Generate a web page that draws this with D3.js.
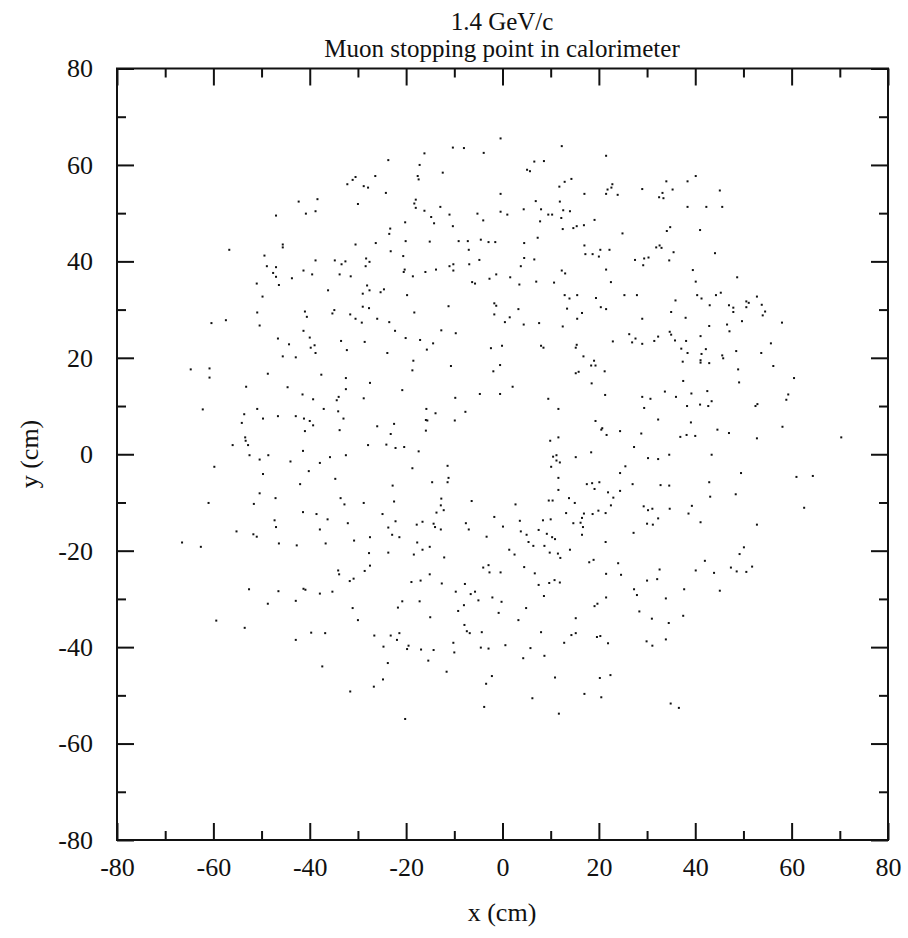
<!DOCTYPE html>
<html>
<head>
<meta charset="utf-8">
<script src="https://cdn.jsdelivr.net/npm/d3@7"></script>
<style>
    html, body { margin: 0; padding: 0; background: #fff; }
    svg text { font-family: "Liberation Serif", "Times New Roman", serif; fill: #111; }
</style>
</head>
<body>
<div id="chart"></div>
<script>
const titleLines = ['1.4 GeV/c', 'Muon stopping point in calorimeter'];
const xLabel = 'x (cm)';
const yLabel = 'y (cm)';
const majorTicks = [-80, -60, -40, -20, 0, 20, 40, 60, 80];
const minorTicks = [-70, -50, -30, -10, 10, 30, 50, 70];

// upper left quadrant of the cloud
const upperLeft = [
    [-23.7, 61.0], [-26.4, 57.7], [-30.5, 57.5], [-31.1, 56.9], [-32.2, 56.0], [-28.8, 55.6], [-27.9, 55.3],
    [-24.2, 54.2], [-42.3, 52.4], [-38.4, 52.9], [-30.0, 51.9], [-40.8, 49.9], [-38.8, 50.4], [-47.0, 49.5],
    [-23.3, 46.8], [-23.5, 45.7], [-45.6, 43.5], [-45.6, 42.9], [-30.5, 43.5], [-26.3, 43.8], [-23.2, 42.1],
    [-56.7, 42.4], [-49.4, 41.2], [-48.9, 39.0], [-47.0, 38.8], [-47.6, 37.6], [-47.0, 36.8], [-46.4, 35.1],
    [-51.0, 35.4], [-49.8, 32.7], [-43.7, 36.5], [-41.3, 38.1], [-39.5, 37.3], [-38.8, 40.2], [-34.8, 40.2],
    [-33.4, 39.4], [-32.6, 40.0], [-33.8, 37.3], [-31.5, 36.9], [-28.3, 40.6], [-27.6, 39.9], [-28.4, 39.0],
    [-28.1, 35.0], [-27.6, 34.0], [-29.0, 33.3], [-25.3, 33.6], [-24.6, 34.2], [-36.2, 34.0], [-50.9, 29.4],
    [-50.4, 26.7], [-60.4, 27.2], [-57.4, 27.8], [-41.0, 29.6], [-40.6, 28.5], [-35.3, 29.2], [-34.9, 29.9],
    [-31.6, 29.0], [-30.5, 28.1], [-29.2, 27.3], [-29.0, 30.6], [-27.7, 30.3], [-26.0, 28.1], [-23.5, 27.4]
];

// upper middle
const upperMid = [
    [-0.4, 65.5], [-10.3, 63.6], [-8.0, 63.5], [-16.2, 62.4], [-3.9, 62.5], [12.3, 63.9], [21.5, 61.9],
    [6.6, 60.7], [8.6, 60.8], [-17.2, 60.0], [-12.4, 58.4], [5.1, 59.0], [5.7, 58.7], [-17.6, 57.7],
    [-17.4, 57.0], [14.3, 57.1], [12.9, 56.5], [11.8, 55.5], [22.8, 56.0], [21.8, 54.9], [22.6, 55.3],
    [21.5, 54.0], [23.9, 53.8], [17.0, 54.0], [-0.4, 54.0], [-18.0, 52.8], [-18.3, 52.0], [-18.0, 51.1],
    [-12.9, 51.3], [-16.2, 50.5], [-14.8, 49.2], [-14.2, 47.9], [-20.2, 48.1], [-11.0, 49.7], [-10.3, 47.3],
    [-5.2, 49.9], [-4.0, 48.5], [-0.4, 50.3], [1.0, 49.7], [6.9, 52.5], [4.4, 50.8], [8.0, 50.8],
    [9.5, 49.7], [10.3, 49.7], [11.9, 52.4], [12.6, 50.6], [14.0, 50.4], [12.2, 49.0], [7.8, 48.3],
    [19.1, 48.6], [12.5, 46.7], [14.7, 46.9], [15.4, 47.3], [16.9, 47.5], [24.9, 45.8], [-20.1, 44.2],
    [-15.1, 44.1], [-9.1, 44.2], [-7.2, 44.2], [-4.5, 44.5], [-2.9, 44.0], [-1.5, 44.0], [-7.0, 42.4],
    [4.5, 43.8], [7.3, 44.9], [17.0, 43.3], [17.2, 41.5], [18.7, 41.5], [20.0, 41.0], [20.3, 42.4],
    [22.2, 42.4], [-20.6, 41.1], [-20.3, 38.3], [-20.5, 37.8], [-18.6, 36.9], [-16.0, 37.8], [-13.8, 38.3],
    [-11.0, 39.0], [-10.2, 39.4], [-10.2, 38.1], [-6.9, 39.4], [-4.8, 40.3], [-6.3, 35.7], [-5.7, 35.4],
    [-2.7, 36.4], [-1.3, 37.3], [1.6, 36.7], [3.5, 35.2], [3.8, 39.0], [4.5, 40.7], [6.6, 40.4],
    [7.0, 35.8], [10.7, 35.6], [12.3, 38.1], [13.0, 37.5], [21.5, 38.3], [22.5, 35.7], [-19.8, 33.0],
    [-18.3, 29.4], [-11.2, 30.7], [-1.7, 31.3], [-1.3, 30.8], [-1.7, 29.0], [0.5, 27.4], [1.5, 28.4],
    [3.3, 30.1], [4.4, 26.9], [7.6, 27.2], [12.5, 26.5], [12.9, 33.0], [13.9, 32.3], [15.5, 33.0],
    [13.4, 30.2], [16.5, 29.3], [15.5, 28.1], [19.4, 32.4], [20.4, 30.5], [21.5, 30.1], [25.3, 33.0]
];

// upper right
const upperRight = [
    [40.1, 57.7], [38.4, 56.6], [34.0, 56.6], [29.0, 55.0], [35.3, 54.9], [33.2, 54.2], [32.5, 53.3],
    [33.4, 53.1], [45.1, 54.7], [38.4, 51.3], [42.3, 51.3], [45.6, 51.3], [34.8, 47.1], [34.1, 46.3],
    [41.0, 46.5], [32.6, 43.3], [31.9, 42.9], [33.0, 42.8], [35.5, 41.9], [30.3, 40.8], [29.4, 40.6],
    [27.5, 40.3], [34.6, 40.2], [29.2, 39.2], [44.1, 41.7], [39.5, 38.2], [40.1, 35.8], [48.7, 36.7],
    [27.9, 33.0], [35.9, 31.9], [40.4, 33.0], [41.3, 32.3], [44.3, 33.0], [45.3, 33.5], [43.0, 30.9],
    [47.0, 30.9], [47.9, 30.4], [47.9, 29.5], [50.6, 31.7], [51.1, 31.4], [50.6, 30.5], [52.8, 32.7],
    [53.8, 31.0], [54.5, 29.6], [54.0, 28.8], [58.0, 27.3], [49.7, 27.6], [46.6, 26.9], [42.9, 26.6],
    [38.0, 28.3], [35.0, 29.5], [29.0, 28.1]
];

// middle band, left
const midLeft = [
    [-41.3, 25.6], [-22.3, 25.6], [-46.6, 24.0], [-40.0, 24.2], [-44.3, 22.8], [-39.0, 22.6], [-39.8, 22.1],
    [-38.8, 21.0], [-45.6, 20.3], [-42.9, 20.1], [-33.5, 23.5], [-32.3, 21.6], [-28.6, 23.3], [-23.9, 21.0],
    [-64.7, 17.6], [-60.8, 17.8], [-60.8, 15.9], [-48.7, 16.7], [-37.6, 16.5], [-32.5, 15.8], [-27.5, 14.8],
    [-53.2, 14.0], [-44.6, 13.9], [-41.5, 12.4], [-39.3, 11.4], [-32.5, 13.5], [-34.0, 11.9], [-34.4, 11.2],
    [-28.8, 11.6], [-62.2, 9.3], [-53.6, 8.3], [-50.9, 9.4], [-49.7, 7.4], [-54.1, 6.5], [-46.6, 7.9],
    [-42.9, 7.9], [-41.2, 7.4], [-40.0, 6.9], [-39.3, 6.0], [-37.1, 9.4], [-34.1, 8.9], [-33.0, 7.4],
    [-33.8, 5.0], [-41.0, 4.8], [-26.0, 5.8], [-22.5, 6.3], [-23.2, 4.2], [-53.4, 3.5], [-53.3, 2.8],
    [-56.0, 1.9], [-52.8, 1.9], [-27.9, 1.9], [-24.1, 2.0], [-22.2, 1.3], [-52.5, -0.2], [-48.6, -0.2],
    [-50.4, -1.1], [-41.4, 0.7], [-44.0, -1.5], [-37.9, -1.8], [-35.8, -0.6], [-32.5, -0.2], [-59.8, -2.6],
    [-49.7, -4.1], [-40.2, -3.5], [-42.0, -6.2], [-34.7, -5.1], [-22.8, -6.5], [-50.4, -8.1], [-47.1, -9.1],
    [-61.0, -10.1], [-51.6, -10.3], [-33.6, -9.1], [-32.8, -10.4], [-28.8, -10.1], [-22.5, -9.8], [-41.4, -12.0],
    [-38.6, -12.4], [-36.3, -13.5], [-32.1, -14.3], [-24.9, -12.4], [-22.2, -13.9], [-47.3, -13.7], [-47.0, -15.1],
    [-37.9, -15.6], [-23.7, -15.2]
];

// middle band, centre
const midCentre = [
    [-12.7, 25.7], [-9.7, 25.1], [-20.1, 24.1], [-17.1, 23.7], [-14.4, 23.0], [-15.7, 21.7], [-2.4, 22.0],
    [-0.1, 22.5], [8.0, 22.5], [8.5, 22.1], [15.4, 22.7], [15.2, 22.1], [22.9, 23.4], [26.3, 24.9],
    [-18.5, 19.4], [-18.7, 17.4], [-10.7, 18.3], [-0.5, 18.5], [-1.9, 17.2], [16.8, 20.3], [19.0, 19.4],
    [18.4, 18.4], [19.3, 18.4], [15.2, 16.8], [15.8, 17.1], [21.2, 17.2], [18.5, 14.7], [21.3, 12.3],
    [-20.8, 13.3], [-9.8, 11.7], [-4.7, 12.5], [-0.5, 12.5], [2.1, 14.0], [9.5, 11.5], [11.6, 9.4],
    [-15.8, 9.4], [-13.9, 8.5], [-7.7, 8.8], [-15.9, 7.1], [-15.6, 7.0], [-9.9, 7.0], [-15.9, 4.9],
    [19.3, 6.9], [20.7, 5.4], [20.5, 5.1], [21.6, 4.0], [24.4, 4.8], [11.6, 3.5], [9.9, 2.8],
    [-20.4, 1.5], [-17.4, 0.6], [-18.7, -2.9], [-11.4, -2.4], [-11.2, -4.9], [-11.4, -5.8], [-14.6, -5.8],
    [10.5, -0.5], [11.2, -0.2], [11.2, -1.3], [11.9, -1.7], [10.1, -2.6], [15.2, -0.6], [18.4, 0.4],
    [11.6, -4.9], [11.6, -7.4], [17.5, -6.2], [18.6, -6.0], [20.1, -5.8], [19.1, -7.2], [24.4, -3.9],
    [25.5, -2.5], [24.4, -7.6], [21.9, -7.9], [23.0, -9.0], [22.5, -10.6], [21.4, -12.2], [19.9, -11.7],
    [18.7, -12.4], [16.9, -12.3], [16.5, -13.2], [16.2, -14.2], [16.7, -15.1], [14.7, -14.3], [13.2, -12.2],
    [15.0, -10.1], [13.8, -9.1], [9.6, -9.6], [10.4, -9.6], [10.0, -13.5], [8.4, -13.7], [7.5, -15.7],
    [3.6, -13.8], [2.7, -10.4], [0.1, -15.0], [-1.7, -13.0], [-6.4, -9.7], [-7.6, -14.3], [-7.0, -15.6],
    [-12.7, -9.2], [-12.8, -10.6], [-13.7, -12.1], [-12.2, -11.6], [-16.6, -14.0], [-17.8, -14.6], [-14.3, -14.4],
    [-14.0, -15.1], [-12.8, -15.6]
];

// middle band, right
const midRight = [
    [27.6, 24.0], [26.9, 23.2], [29.0, 22.9], [31.5, 23.5], [32.3, 24.4], [34.7, 25.4], [35.0, 24.8],
    [35.8, 23.6], [38.1, 23.5], [41.1, 24.5], [47.1, 25.5], [37.1, 21.9], [38.4, 21.0], [41.3, 20.8],
    [42.2, 21.8], [37.4, 19.2], [41.1, 19.5], [41.1, 19.0], [42.9, 18.9], [45.6, 20.5], [45.8, 19.9],
    [48.5, 21.4], [53.7, 21.0], [55.7, 23.0], [56.2, 18.3], [48.9, 17.6], [49.1, 14.9], [60.5, 15.8],
    [37.5, 15.2], [33.7, 13.0], [36.0, 11.9], [39.2, 12.6], [42.5, 13.1], [43.4, 11.0], [41.0, 10.3],
    [42.7, 10.0], [38.3, 10.0], [29.0, 11.9], [30.7, 11.5], [29.4, 9.6], [52.9, 10.4], [52.5, 10.0],
    [59.3, 12.4], [58.9, 11.3], [32.3, 7.2], [39.1, 6.6], [44.6, 5.1], [47.0, 4.4], [28.8, 4.3],
    [36.9, 3.6], [38.2, 4.0], [40.0, 3.8], [52.8, 3.3], [58.1, 5.7], [70.3, 3.5], [27.3, 1.5],
    [30.2, -0.8], [32.3, -1.0], [34.6, -0.1], [43.4, -0.1], [49.5, -3.9], [61.0, -4.7], [64.4, -4.5],
    [27.0, -6.2], [32.8, -6.4], [34.6, -6.5], [42.9, -5.8], [43.1, -8.8], [48.4, -8.3], [29.3, -10.8],
    [30.2, -11.6], [31.1, -11.3], [34.7, -11.3], [39.3, -10.7], [38.6, -12.3], [32.3, -13.3], [30.0, -14.4],
    [31.2, -14.6], [41.1, -14.1], [52.8, -14.6], [62.6, -11.1]
];

// lower left
const lowerLeft = [
    [-55.2, -16.0], [-51.7, -16.6], [-51.0, -17.1], [-66.5, -18.3], [-62.6, -19.2], [-46.4, -18.5], [-42.7, -18.9],
    [-36.7, -18.5], [-30.8, -17.9], [-27.5, -17.2], [-22.9, -16.7], [-21.4, -17.2], [-27.7, -20.5], [-23.7, -20.4],
    [-27.5, -23.1], [-28.6, -24.2], [-34.1, -24.1], [-33.9, -24.9], [-31.7, -26.3], [-30.9, -25.8], [-52.6, -28.0],
    [-46.5, -28.4], [-41.3, -27.9], [-40.9, -28.1], [-37.9, -28.9], [-35.3, -28.5], [-48.7, -31.0], [-42.9, -30.4],
    [-31.1, -31.9], [-21.7, -31.8], [-30.0, -34.4], [-59.4, -34.5], [-53.5, -36.0], [-39.7, -37.0], [-36.8, -37.1],
    [-42.9, -38.5], [-26.6, -37.6], [-23.2, -37.6], [-21.4, -37.1], [-21.9, -38.5], [-24.7, -39.9], [-23.8, -43.3],
    [-37.4, -44.0], [-24.8, -46.7], [-26.7, -48.2], [-31.6, -49.2]
];

// lower middle
const lowerMid = [
    [3.8, -16.0], [5.0, -16.7], [9.2, -16.5], [10.3, -17.2], [10.9, -17.6], [16.5, -16.7], [-3.3, -17.1],
    [5.4, -18.2], [6.4, -19.0], [8.7, -19.0], [9.8, -20.4], [11.5, -20.6], [12.0, -21.5], [14.0, -19.8],
    [21.4, -18.2], [18.0, -22.4], [18.9, -21.9], [24.0, -22.6], [21.5, -24.8], [24.6, -25.0], [-17.7, -18.3],
    [-16.6, -19.8], [-15.1, -19.2], [-18.4, -20.8], [-12.1, -21.4], [1.4, -19.8], [2.5, -20.8], [-4.0, -23.5],
    [-2.9, -23.0], [-2.7, -24.5], [-0.4, -24.5], [4.5, -23.4], [6.7, -24.7], [7.5, -27.1], [9.7, -26.7],
    [10.8, -26.1], [11.9, -26.6], [8.6, -29.4], [-18.9, -26.5], [-17.0, -26.2], [-15.1, -24.9], [-12.6, -26.8],
    [-7.8, -26.9], [-9.7, -28.5], [-6.6, -29.0], [-5.7, -28.5], [-20.8, -30.5], [-17.2, -30.5], [-5.0, -30.3],
    [-8.0, -31.3], [-2.1, -29.7], [-0.2, -30.6], [-9.2, -32.5], [-0.8, -32.9], [4.9, -31.9], [3.3, -34.4],
    [-15.0, -33.8], [-7.9, -35.4], [-7.4, -36.7], [-6.8, -37.1], [-4.3, -36.9], [8.0, -36.9], [15.2, -34.0],
    [14.3, -37.5], [15.2, -37.1], [12.8, -39.1], [19.1, -31.5], [19.7, -31.0], [21.5, -29.7], [19.6, -37.9],
    [20.3, -37.7], [21.9, -39.2], [-19.5, -39.7], [-19.8, -40.4], [-16.9, -40.5], [-14.3, -40.6], [-15.4, -42.8],
    [-10.2, -39.1], [-10.0, -41.1], [-4.5, -40.1], [-2.9, -40.3], [0.6, -39.6], [5.8, -40.2], [4.3, -42.3],
    [8.7, -41.8], [-11.6, -45.1], [-2.2, -46.0], [-3.4, -47.6], [10.9, -46.3], [20.2, -46.4], [22.4, -45.8],
    [17.0, -49.7], [20.5, -50.4], [6.2, -50.6], [-3.8, -52.4], [11.7, -53.8], [-20.2, -54.9]
];

// lower right
const lowerRight = [
    [27.2, -16.3], [50.1, -19.3], [49.2, -20.7], [42.0, -22.1], [40.1, -24.1], [43.9, -24.6], [47.4, -23.5],
    [48.6, -24.3], [50.6, -24.4], [51.8, -23.3], [32.6, -23.9], [32.1, -25.9], [30.0, -26.2], [27.3, -28.0],
    [27.9, -29.2], [37.7, -28.0], [45.1, -28.3], [33.9, -29.9], [28.4, -32.6], [31.0, -34.1], [34.5, -35.0],
    [37.5, -33.5], [33.9, -38.4], [29.9, -38.8], [31.1, -39.7], [34.9, -51.7], [36.6, -52.6]
];

const width = 908;
const height = 938;
const margin = { top: 68.5, right: 20, bottom: 98, left: 117 };
const ink = '#111';

const svg = d3
    .select('#chart')
    .append('svg')
    .attr('width', width)
    .attr('height', height)
    .attr('viewBox', [0, 0, width, height]);

svg.append('rect').attr('width', width).attr('height', height).attr('fill', '#fff');

const x = d3.scaleLinear().domain([-80, 80]).range([margin.left, width - margin.right]);
const y = d3.scaleLinear().domain([-80, 80]).range([height - margin.bottom, margin.top]);

// Title, two lines
svg.append('g')
    .attr('font-size', 25)
    .attr('text-anchor', 'middle')
    .selectAll('text')
    .data(titleLines)
    .join('text')
    .attr('x', 502)
    .attr('y', (d, i) => 30 + i * 27)
    .text((d) => d);

// Ticks on all four sides, pointing inward (plain hyphen for negatives)
const drawTicks = (axisFn, transform, values, size, labelled, padding) => {
    const g = svg.append('g')
        .attr('transform', transform)
        .call(
            axisFn
                .tickValues(values)
                .tickSize(-size)
                .tickSizeOuter(0)
                .tickPadding(padding || 0)
                .tickFormat(labelled ? (d) => String(d) : () => ''),
        );
    g.select('.domain').remove();
    g.selectAll('line').attr('stroke', ink).attr('stroke-width', 2);
    g.selectAll('text').attr('font-size', 26).attr('font-family', null).attr('fill', ink);
    return g;
};

const bottomY = y(-80);
const topY = y(80);
const leftX = x(-80);
const rightX = x(80);

drawTicks(d3.axisBottom(x), `translate(0,${bottomY})`, majorTicks, 17, true, 18);
drawTicks(d3.axisBottom(x), `translate(0,${bottomY})`, minorTicks, 9, false);
drawTicks(d3.axisTop(x), `translate(0,${topY})`, majorTicks, 17, false);
drawTicks(d3.axisTop(x), `translate(0,${topY})`, minorTicks, 9, false);
drawTicks(d3.axisLeft(y), `translate(${leftX},0)`, majorTicks, 17, true, 24);
drawTicks(d3.axisLeft(y), `translate(${leftX},0)`, minorTicks, 9, false);
drawTicks(d3.axisRight(y), `translate(${rightX},0)`, majorTicks, 17, false);
drawTicks(d3.axisRight(y), `translate(${rightX},0)`, minorTicks, 9, false);

// Frame
svg.append('rect')
    .attr('x', leftX)
    .attr('y', topY)
    .attr('width', rightX - leftX)
    .attr('height', bottomY - topY)
    .attr('fill', 'none')
    .attr('stroke', ink)
    .attr('stroke-width', 2);

// Axis titles
svg.append('text')
    .attr('x', 502)
    .attr('y', 921)
    .attr('font-size', 26)
    .attr('text-anchor', 'middle')
    .text(xLabel);

svg.append('text')
    .attr('transform', 'translate(38,454) rotate(-90)')
    .attr('font-size', 26)
    .attr('text-anchor', 'middle')
    .text(yLabel);

// Stopping points
const allPoints = [
    ...upperLeft, ...upperMid, ...upperRight,
    ...midLeft, ...midCentre, ...midRight,
    ...lowerLeft, ...lowerMid, ...lowerRight,
];

svg.append('g')
    .attr('fill', ink)
    .selectAll('rect')
    .data(allPoints)
    .join('rect')
    .attr('x', (d) => x(d[0]) - 1)
    .attr('y', (d) => y(d[1]) - 1)
    .attr('width', 2)
    .attr('height', 2);
</script>
</body>
</html>
